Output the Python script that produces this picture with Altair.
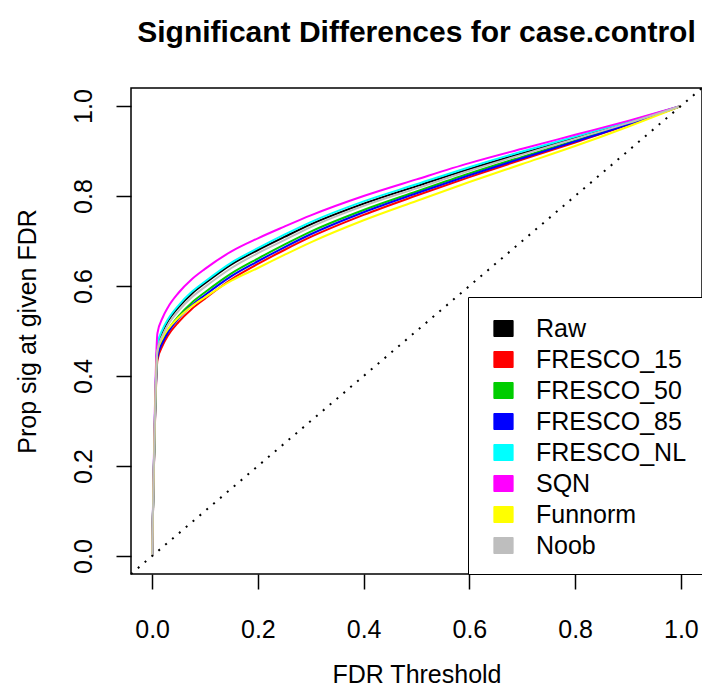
import altair as alt
import pandas as pd

fdr = [0.0, 0.01, 0.02, 0.03, 0.05, 0.075, 0.1, 0.15, 0.2, 0.25, 0.3, 0.4, 0.5, 0.6, 0.7, 0.8, 0.9, 1.0]
methods = ["Raw", "FRESCO_15", "FRESCO_50", "FRESCO_85", "FRESCO_NL", "SQN", "Funnorm", "Noob"]
colors = ["#000000", "#FF0000", "#00CD00", "#0000FF", "#00FFFF", "#FF00FF", "#FFFF00", "#BEBEBE"]

raw = [0.0, 0.465, 0.499, 0.522, 0.553, 0.583, 0.606, 0.648, 0.680, 0.709, 0.737, 0.783, 0.822, 0.860, 0.895, 0.929, 0.963, 1.0]
fresco_15 = [0.0, 0.435, 0.468, 0.490, 0.520, 0.549, 0.572, 0.615, 0.649, 0.680, 0.709, 0.758, 0.801, 0.842, 0.881, 0.919, 0.958, 1.0]
fresco_50 = [0.0, 0.447, 0.480, 0.502, 0.533, 0.563, 0.586, 0.628, 0.661, 0.692, 0.721, 0.769, 0.810, 0.850, 0.887, 0.923, 0.960, 1.0]
fresco_85 = [0.0, 0.442, 0.475, 0.497, 0.528, 0.557, 0.580, 0.622, 0.655, 0.686, 0.715, 0.764, 0.806, 0.846, 0.884, 0.921, 0.959, 1.0]
fresco_nl = [0.0, 0.470, 0.504, 0.526, 0.557, 0.587, 0.610, 0.652, 0.684, 0.714, 0.742, 0.788, 0.826, 0.864, 0.899, 0.932, 0.965, 1.0]
sqn = [0.0, 0.495, 0.530, 0.553, 0.585, 0.615, 0.638, 0.677, 0.706, 0.732, 0.757, 0.800, 0.837, 0.873, 0.905, 0.936, 0.967, 1.0]
funnorm = [0.0, 0.455, 0.485, 0.504, 0.530, 0.555, 0.575, 0.612, 0.640, 0.669, 0.697, 0.746, 0.789, 0.831, 0.871, 0.911, 0.954, 1.0]
noob = [0.0, 0.457, 0.491, 0.514, 0.545, 0.575, 0.598, 0.640, 0.673, 0.702, 0.731, 0.778, 0.817, 0.856, 0.892, 0.927, 0.962, 1.0]

series = [raw, fresco_15, fresco_50, fresco_85, fresco_nl, sqn, funnorm, noob]

diag_x = [-0.04, 1.04]
diag_y = [-0.04, 1.04]

ticks = [0.0, 0.2, 0.4, 0.6, 0.8, 1.0]

rows = []
for k, (m, vals) in enumerate(zip(methods, series)):
    for i, (x, y) in enumerate(zip(fdr, vals)):
        rows.append({"method": m, "fdr": x, "prop": y, "idx": i, "k": k})
df = pd.DataFrame(rows)
diag = pd.DataFrame({"x": diag_x, "y": diag_y})

FONT = "Liberation Sans"
xscale = alt.Scale(domain=[-0.04, 1.04], nice=False, zero=False)
yscale = alt.Scale(domain=[-0.04, 1.04], nice=False, zero=False)

xaxis = alt.Axis(values=ticks, format=".1f", title="FDR Threshold",
                 labelPadding=28, titleY=108, titleBaseline="alphabetic")
yaxis = alt.Axis(values=ticks, format=".1f", title="Prop sig at given FDR",
                 labelAngle=270, labelAlign="center", labelBaseline="alphabetic",
                 labelPadding=25, titleAngle=270, titleX=-96, titleY=243,
                 titleAlign="center", titleBaseline="alphabetic")

legend = alt.Legend(
    title=" ", titleFontSize=1, titlePadding=3,
    orient="bottom-right", offset=0,
    strokeColor="black", fillColor="white", padding=15,
    labelFontSize=25, labelFont=FONT, labelColor="black",
    symbolType="M-1.2,-1L1.2,-1L1.2,1L-1.2,1Z", symbolSize=256,
    symbolStrokeColor="black", symbolStrokeWidth=1, symbolOpacity=1,
    symbolOffset=8, labelOffset=20, rowPadding=5,
)

colscale = alt.Scale(domain=methods, range=colors)

key = alt.Chart(df).mark_square(size=0, filled=True).encode(
    x=alt.X("fdr:Q", scale=xscale, axis=xaxis),
    y=alt.Y("prop:Q", scale=yscale, axis=yaxis),
    fill=alt.Fill("method:N", scale=colscale, sort=methods, legend=legend),
)

lines = alt.Chart(df).mark_line(strokeWidth=2, interpolate="monotone").encode(
    x=alt.X("fdr:Q", scale=xscale, axis=xaxis),
    y=alt.Y("prop:Q", scale=yscale, axis=yaxis),
    stroke=alt.Stroke("method:N", scale=colscale, sort=methods, legend=None),
    order=alt.Order("idx:Q"),
)

diag_line = alt.Chart(diag).mark_line(color="black", strokeWidth=2,
                                      strokeDash=[2, 7]).encode(
    x=alt.X("x:Q", scale=xscale),
    y=alt.Y("y:Q", scale=yscale),
)

chart = alt.layer(key, lines, diag_line).properties(
    width=571, height=486,
    title=alt.TitleParams("Significant Differences for case.control",
                          fontSize=30, font=FONT, fontWeight="bold",
                          anchor="middle", baseline="alphabetic",
                          offset=12, color="black"),
    autosize=alt.AutoSizeParams(type="none"),
    padding={"left": 123, "top": 80, "right": 0, "bottom": 114},
).configure_view(
    stroke="black", strokeWidth=1.5
).configure_axis(
    domain=False, grid=False, tickColor="black", tickWidth=1.5, tickSize=15,
    labelFont=FONT, labelFontSize=25, labelColor="black",
    titleFont=FONT, titleFontSize=25, titleFontWeight="normal", titleColor="black",
)

chart.save("out.html", embed_options={"renderer": "svg", "actions": False})
